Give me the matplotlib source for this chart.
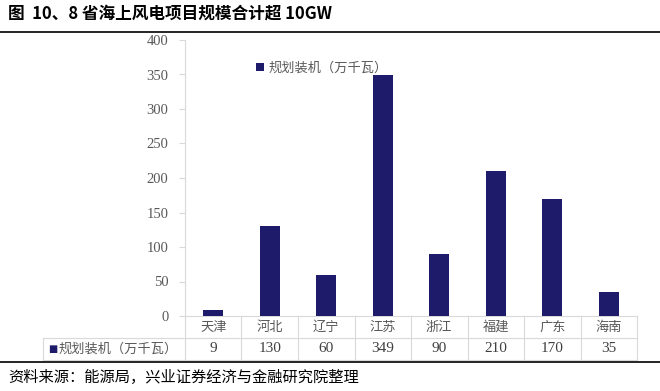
import matplotlib
matplotlib.use("Agg")
import matplotlib.pyplot as plt
from matplotlib.transforms import blended_transform_factory

plt.rcParams['font.family'] = ['Noto Sans CJK SC', 'DejaVu Sans']

# 数据
provinces = ["天津", "河北", "辽宁", "江苏", "浙江", "福建", "广东", "海南"]
capacity = [9, 130, 60, 349, 90, 210, 170, 35]
series_name = "规划装机（万千瓦）"
yticks = [0, 50, 100, 150, 200, 250, 300, 350, 400]
title = "图  10、8 省海上风电项目规模合计超 10GW"
source = "资料来源：能源局，兴业证券经济与金融研究院整理"

BAR = "#1f1b6b"
GRID = "#d9d9d9"
TXT = "#595959"
SERIF = ["Liberation Serif", "DejaVu Serif"]

fig = plt.figure(figsize=(6.6, 3.91), dpi=100)
W, H = 660, 391
l, r, b, t = 185 / W, 637 / W, 1 - 316 / H, 1 - 40 / H
ax = fig.add_axes([l, b, r - l, t - b])

x = range(len(provinces))
bars = ax.bar(x, capacity, width=0.36, color=BAR, label=series_name, zorder=3)
ax.set_xlim(-0.5, len(provinces) - 0.5)
ax.set_ylim(0, 400)
ax.set_yticks(yticks)
ax.set_yticklabels([str(v) for v in yticks], family=SERIF, fontsize=10.5, color=TXT)
ax.tick_params(axis="y", length=4, color=GRID, pad=8)
ax.set_xticks([])
for s in ["top", "right"]:
    ax.spines[s].set_visible(False)
for s in ["left", "bottom"]:
    ax.spines[s].set_color(GRID)
    ax.spines[s].set_linewidth(0.8)

leg = ax.legend(loc="upper left", bbox_to_anchor=(0.13, 0.965), frameon=False,
                handlelength=0.6, handleheight=0.6, handletextpad=0.4,
                prop={"size": 9.5})
for txt in leg.get_texts():
    txt.set_color(TXT)

# 底部数据表
row_h = 22 / (316 - 40)
tr = blended_transform_factory(ax.transData, ax.transAxes)
for i, (p, v) in enumerate(zip(provinces, capacity)):
    ax.text(i, -row_h / 2, p, transform=tr, ha="center", va="center",
            fontsize=9.5, color=TXT)
    ax.text(i, -row_h * 1.5, str(v), transform=tr, ha="center", va="center",
            fontsize=11, color="#404040", family=SERIF)
for i in range(len(provinces) + 1):
    ax.plot([i - 0.5, i - 0.5], [0, -2 * row_h], transform=tr, color=GRID,
            lw=0.8, clip_on=False)
x_lab = (43 - 185) / (637 - 185)
ax.plot([x_lab, 1], [-row_h, -row_h], transform=ax.transAxes, color=GRID,
        lw=0.8, clip_on=False)
ax.plot([x_lab, x_lab], [-row_h, -2 * row_h], transform=ax.transAxes,
        color=GRID, lw=0.8, clip_on=False)
ax.plot([x_lab, 1], [-2 * row_h, -2 * row_h], transform=ax.transAxes,
        color=GRID, lw=0.8, clip_on=False)
ax.text(x_lab + 0.012, -row_h * 1.5, "■", transform=ax.transAxes, ha="left",
        va="center", fontsize=7, color=BAR, family=["DejaVu Sans"])
ax.text(x_lab + 0.035, -row_h * 1.5, series_name, transform=ax.transAxes,
        ha="left", va="center", fontsize=9.5, color=TXT)

# 标题与来源
fig.text(8 / W, 1 - 14 / H, title, ha="left", va="center", fontsize=12,
         fontweight="bold", color="black")
fig.add_artist(plt.Line2D([0, 1], [1 - 32 / H, 1 - 32 / H], color="black", lw=1.2))
fig.add_artist(plt.Line2D([0, 1], [1 - 362 / H, 1 - 362 / H], color="black", lw=1.2))
fig.text(8 / W, 1 - 377 / H, source, ha="left", va="center", fontsize=11,
         color="black")

fig.savefig("out.png", dpi=100)
